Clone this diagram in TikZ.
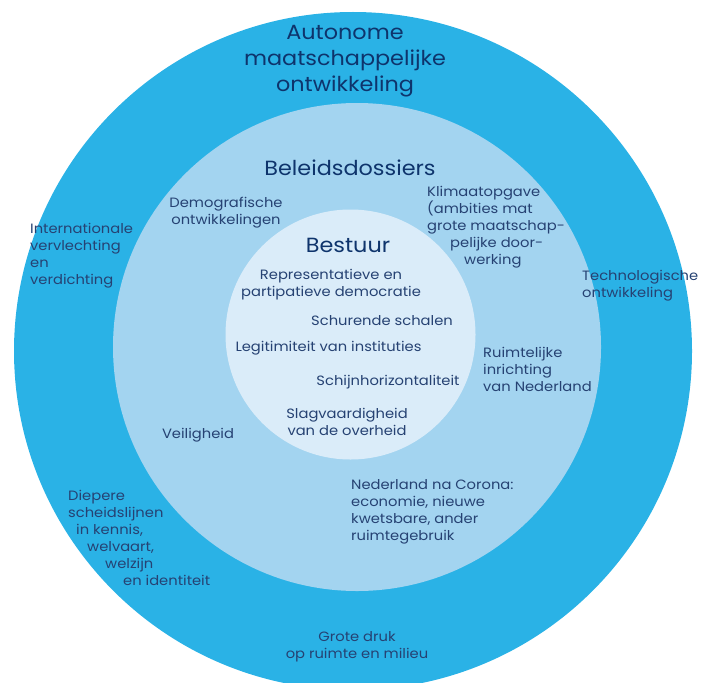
\documentclass[tikz,border=0pt]{standalone}
\usepackage{fontspec}
\setmainfont{Poppins}[FakeStretch=1.09]

\definecolor{outerblue}{RGB}{42,178,230}
\definecolor{midblue}{RGB}{163,212,240}
\definecolor{innerblue}{RGB}{218,236,249}
\definecolor{textblue}{RGB}{38,66,115}
\definecolor{titleblue}{RGB}{14,52,108}

\tikzset{
  lbl/.style={text=textblue, font=\fontsize{13.5}{17}\selectfont, inner sep=0pt, yshift=-2pt},
  ttl/.style={text=titleblue, font=\fontsize{20.5}{26}\selectfont, inner sep=0pt, align=center, yshift=-2.5pt},
}

\begin{document}
\begin{tikzpicture}[x=1pt,y=-1pt]
        \useasboundingbox (0,0) rectangle (708,682);

        % Circles
        \fill[outerblue] (353,351) circle (339pt);
        \fill[midblue] (357,347) circle (244pt);
        \fill[innerblue] (350.5,334.5) circle (125pt);

        % Titles
        \node[ttl] (auto) at (345,59) {Autonome\\maatschappelijke\\ontwikkeling};
        \node[ttl] (beleid) at (350,165) {Beleidsdossiers};
        \node[ttl] (bestuur) at (348,243) {Bestuur};

        % Outer ring
        \node[lbl, align=left, anchor=west] (intl) at (30,254) {Internationale\\vervlechting\\en\\verdichting};
        \node[lbl, align=left, anchor=west] (tech) at (582,284) {Technologische\\ontwikkeling};
        \node[lbl, align=left, anchor=west] (diep) at (68,535.5) {Diepere\\scheidslijnen\\\hspace*{8pt}in kennis,\\\hspace*{19pt}welvaart,\\\hspace*{37pt}welzijn\\\hspace*{55pt}en identiteit};
        \node[lbl, align=center] (druk) at (357,644.5) {Grote druk\\op ruimte en milieu};

        % Middle ring
        \node[lbl, align=center] (demo) at (226,211) {Demografische\\ontwikkelingen};
        \node[lbl, align=left, anchor=west] (klimaat) at (427,225) {Klimaatopgave\\(ambities mat\\grote maatschap-\\\hspace*{23pt}pelijke door-\\\hspace*{37pt}werking};
        \node[lbl, align=left, anchor=west] (ruimte) at (483,367) {Ruimtelijke\\inrichting\\van Nederland};
        \node[lbl] (veilig) at (198,433) {Veiligheid};
        \node[lbl, align=left, anchor=west] (corona) at (351,510) {Nederland na Corona:\\economie, nieuwe\\kwetsbare, ander\\ruimtegebruik};

        % Inner circle
        \node[lbl, align=center] (repr) at (331,282.5) {Representatieve en\\partipatieve democratie};
        \node[lbl] (schuur) at (382,319) {Schurende schalen};
        \node[lbl] (legit) at (328.5,346) {Legitimiteit van instituties};
        \node[lbl] (schijn) at (388,380) {Schijnhorizontaliteit};
        \node[lbl, align=center] (slag) at (347,419.5) {Slagvaardigheid\\van de overheid};
\end{tikzpicture}
\end{document}
